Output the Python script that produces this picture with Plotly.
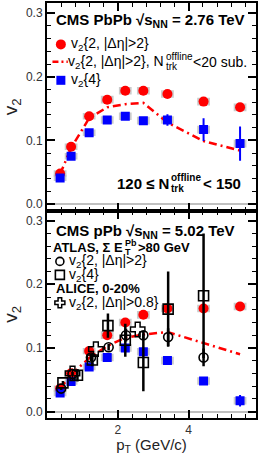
import plotly.graph_objects as go
from plotly.subplots import make_subplots

# ---------------- data ----------------
pt_cms = [0.37, 0.68, 1.19, 1.70, 2.21, 2.72, 3.40, 4.42, 5.45]

pbpb_v22 = [0.048, 0.090, 0.138, 0.164, 0.178, 0.178, 0.173, 0.161, 0.152]
pbpb_v22_sub = [0.047, 0.088, 0.135, 0.152, 0.157, 0.159, 0.128, 0.099, 0.084]
pbpb_v24 = [0.041, 0.075, 0.112, 0.132, 0.138, 0.131, 0.132, 0.117, 0.095]
pbpb_v24_err = [0.001, 0.001, 0.002, 0.002, 0.002, 0.004, 0.009, 0.018, 0.027]
pbpb_sys = [0.005, 0.005, 0.005, 0.006, 0.006, 0.006, 0.006, 0.006, 0.006]

ppb_v22 = [0.036, 0.060, 0.095, 0.120, 0.140, 0.152, 0.162, 0.162, 0.165]
ppb_v22_sub = [0.036, 0.058, 0.084, 0.103, 0.116, 0.121, 0.125, 0.108, 0.090]
ppb_v24 = [0.029, 0.047, 0.070, 0.085, 0.100, 0.094, 0.080, 0.048, 0.017]
ppb_v24_err = [0.001, 0.001, 0.001, 0.001, 0.002, 0.002, 0.002, 0.003, 0.009]
ppb_sys = [0.005, 0.005, 0.005, 0.006, 0.006, 0.006, 0.006, 0.006, 0.006]

atlas_pt_v22 = [0.40, 0.72, 1.24, 1.74, 2.23, 2.72, 3.42, 4.42]
atlas_v22 = [0.036, 0.059, 0.085, 0.101, 0.120, 0.120, 0.117, 0.085]
atlas_v22_err = [0.002, 0.003, 0.006, 0.005, 0.010, 0.006, 0.014, 0.014]

atlas_pt_v24 = [0.45, 0.86, 1.28, 1.72, 2.21, 2.72, 3.42, 4.42]
atlas_v24 = [0.045, 0.057, 0.081, 0.135, 0.112, 0.077, 0.161, 0.182]
atlas_v24_err = [0.003, 0.010, 0.010, 0.019, 0.026, 0.045, 0.059, 0.098]

alice_pt = [0.72, 1.38, 2.56]
alice_v22 = [0.060, 0.098, 0.129]

x_ticks = [2, 4]
y_ticks = [0.0, 0.1, 0.2, 0.3]

# ---------------- styling ----------------
FONT = "Liberation Sans, Arial, Helvetica, sans-serif"
RED = "#ff0000"
BLUE = "#0000ff"
SYS = "rgba(185,185,185,0.75)"
W, H = 259, 455
ML, MR, MT, MB = 47, 1, 2, 37
PW, PH = W - ML - MR, H - MT - MB


def px(x):
    return (x - ML) / PW


def py(y):
    return (H - MB - y) / PH


fig = make_subplots(rows=2, cols=1, shared_xaxes=True, vertical_spacing=0)


def add_panel(row, v22, v22_sub, v24, v24_err, sys):
    lo22 = [v - s for v, s in zip(v22, sys)]
    lo24 = [v - s for v, s in zip(v24, sys)]
    hh = [2 * s for s in sys]
    fig.add_trace(go.Bar(x=pt_cms, y=hh, base=lo22, width=0.36,
                         marker=dict(color=SYS, line=dict(width=0)),
                         showlegend=False, hoverinfo="skip"), row=row, col=1)
    fig.add_trace(go.Bar(x=pt_cms, y=hh, base=lo24, width=0.36,
                         marker=dict(color=SYS, line=dict(width=0)),
                         showlegend=False, hoverinfo="skip"), row=row, col=1)
    fig.add_trace(go.Scatter(x=pt_cms, y=v22_sub, mode="lines",
                             line=dict(color=RED, width=2.5, dash="8px,4px,2px,4px"),
                             showlegend=False), row=row, col=1)
    fig.add_trace(go.Scatter(x=pt_cms, y=v22, mode="markers",
                             marker=dict(symbol="circle", size=10, color=RED),
                             showlegend=False), row=row, col=1)
    fig.add_trace(go.Scatter(x=pt_cms, y=v24, mode="markers",
                             marker=dict(symbol="square", size=9, color=BLUE),
                             error_y=dict(type="data", array=v24_err, color=BLUE,
                                          thickness=2, width=0),
                             showlegend=False), row=row, col=1)


add_panel(1, pbpb_v22, pbpb_v22_sub, pbpb_v24, pbpb_v24_err, pbpb_sys)
add_panel(2, ppb_v22, ppb_v22_sub, ppb_v24, ppb_v24_err, ppb_sys)

fig.add_trace(go.Scatter(x=atlas_pt_v22, y=atlas_v22, mode="markers",
                         marker=dict(symbol="circle-open", size=9, color="black",
                                     line=dict(width=1.6, color="black")),
                         error_y=dict(type="data", array=atlas_v22_err, color="black",
                                      thickness=2.5, width=0),
                         showlegend=False), row=2, col=1)
fig.add_trace(go.Scatter(x=atlas_pt_v24, y=atlas_v24, mode="markers",
                         marker=dict(symbol="square-open", size=10, color="black",
                                     line=dict(width=1.6, color="black")),
                         error_y=dict(type="data", array=atlas_v24_err, color="black",
                                      thickness=2.5, width=0),
                         showlegend=False), row=2, col=1)
fig.add_trace(go.Scatter(x=alice_pt, y=alice_v22, mode="markers",
                         marker=dict(symbol="cross-open", size=12, color="black",
                                     line=dict(width=1.5, color="black")),
                         showlegend=False), row=2, col=1)

axis_common = dict(showline=True, linewidth=2, linecolor="black", mirror="allticks",
                   ticks="inside", tickcolor="black", tickwidth=1.5, showgrid=False)

for r in (1, 2):
    fig.update_xaxes(range=[0, 5.9], tickvals=x_ticks, ticklen=8, zeroline=False,
                     minor=dict(ticks="inside", ticklen=4, tickcolor="black",
                                tickwidth=1.2, tick0=0, dtick=0.4, showgrid=False),
                     tickfont=dict(family=FONT, size=12, color="#333"),
                     row=r, col=1, **axis_common)
    fig.update_yaxes(range=[-0.0102, 0.316], tickvals=y_ticks, tickformat=".1f",
                     ticklen=8, zeroline=True, zerolinecolor="#c0c0c0", zerolinewidth=1.5,
                     minor=dict(ticks="inside", ticklen=4, tickcolor="black",
                                tickwidth=1.2, tick0=0, dtick=0.02, showgrid=False),
                     tickfont=dict(family=FONT, size=12, color="#333"),
                     title=dict(text="v<sub>2</sub>", font=dict(family=FONT, size=19, color="#222"),
                                standoff=4),
                     row=r, col=1, **axis_common)

fig.update_xaxes(showticklabels=False, row=1, col=1)
fig.update_xaxes(title=dict(text="p<sub>T</sub> (GeV/c)", font=dict(family=FONT, size=15, color="#222"),
                            standoff=4), row=2, col=1)
fig.update_yaxes(domain=[0.5, 1.0], row=1, col=1)
fig.update_yaxes(domain=[0.0, 0.5], row=2, col=1)

# ---------------- legends (text + symbols) ----------------
ann = []
shapes = []


def text(x, y, s, size=14, bold=False, anchor="left"):
    if bold:
        s = "<b>" + s + "</b>"
    ann.append(dict(x=px(x), y=py(y), xref="paper", yref="paper", text=s, showarrow=False,
                    xanchor=anchor, yanchor="middle", borderpad=0,
                    font=dict(family=FONT, size=size, color="black")))


def sym(kind, x, y, color, filled=True, r=4.5):
    base = dict(xref="paper", yref="paper", xsizemode="pixel", ysizemode="pixel",
                xanchor=px(x), yanchor=py(y), layer="above")
    if kind == "cross":
        a, b = 1.8, 5
        path = (f"M {-a},{-b} L {a},{-b} L {a},{-a} L {b},{-a} L {b},{a} L {a},{a} "
                f"L {a},{b} L {-a},{b} L {-a},{a} L {-b},{a} L {-b},{-a} L {-a},{-a} Z")
        base.update(type="path", path=path, fillcolor="white", line=dict(color=color, width=1.5))
    else:
        base.update(type=kind, x0=-r, x1=r, y0=-r, y1=r)
        if filled:
            base.update(fillcolor=color, line=dict(color=color, width=0))
        else:
            base.update(fillcolor="rgba(0,0,0,0)", line=dict(color=color, width=1.6))
    shapes.append(base)


def stacked(x_n, x_rest, y, before, sup, sub, after, size, bold):
    """Text with a stacked superscript above a subscript."""
    small = round(size * 0.7)
    text(x_n, y, before, size=size, bold=bold, anchor="right")
    text(x_n, y - size * 0.38, sup, size=small, bold=bold)
    text(x_n, y + size * 0.33, sub, size=small, bold=bold)
    text(x_rest, y, after, size=size, bold=bold)


# top panel
text(55, 20, "CMS PbPb √s<sub>NN</sub> = 2.76 TeV", size=15, bold=True)
sym("circle", 61, 43.5, RED, r=5)
text(70, 43.5, "v<sub>2</sub>{2, |Δη|>2}")
shapes.append(dict(type="line", xref="paper", yref="paper", x0=px(52.5), x1=px(68),
                   y0=py(61), y1=py(61), line=dict(color=RED, width=2.5, dash="6px,3px,2px,3px")))
stacked(166, 193, 61, "v<sub>2</sub>{2, |Δη|>2}, N", "offline", "trk", "<20 sub.", 14, False)
sym("rect", 61, 79.5, BLUE, r=4.5)
text(70, 79.5, "v<sub>2</sub>{4}")
stacked(171, 203, 183, "120 ≤ N", "offline", "trk", "< 150", 15, True)

# bottom panel
text(55, 231, "CMS pPb √s<sub>NN</sub> = 5.02 TeV", size=15, bold=True)
stacked(125, 138, 247.5, "ATLAS, Σ E", "Pb", "T", ">80 GeV", 13, True)
sym("circle", 60, 261, "black", filled=False, r=4)
text(68, 261, "v<sub>2</sub>{2, |Δη|>2}")
sym("rect", 60, 274.5, "black", filled=False, r=4.5)
text(68, 274.5, "v<sub>2</sub>{4}")
text(55, 288.5, "ALICE, 0-20%", size=13, bold=True)
sym("cross", 60, 302.5, "black")
text(68, 302.5, "v<sub>2</sub>{2, |Δη|>0.8}")

fig.update_layout(width=W, height=H, margin=dict(l=ML, r=MR, t=MT, b=MB),
                  plot_bgcolor="white", paper_bgcolor="white", barmode="overlay",
                  showlegend=False, annotations=ann, shapes=shapes,
                  font=dict(family=FONT))

fig.write_html("out.html", config={"displayModeBar": False})

# remove the default page margin so the figure sits at the window's top-left corner
with open("out.html", encoding="utf-8") as f:
    html = f.read()
html = html.replace("<head>", "<head><style>html,body{margin:0;padding:0;overflow:hidden;}</style>", 1)
with open("out.html", "w", encoding="utf-8") as f:
    f.write(html)
